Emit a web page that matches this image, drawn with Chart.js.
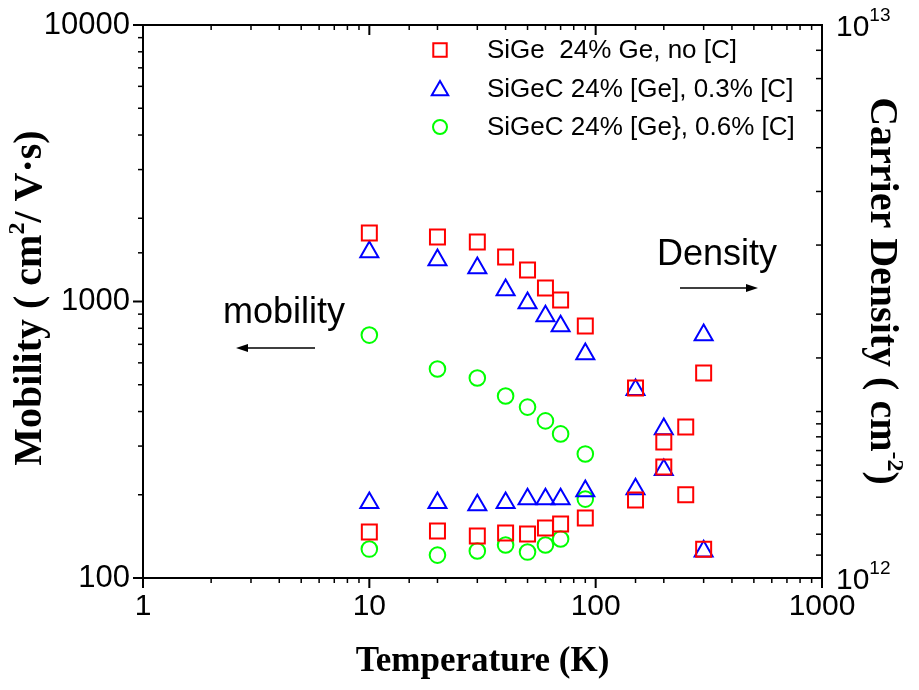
<!DOCTYPE html>
<html>
<head>
<title>Mobility and carrier density vs temperature</title>
<style>
  body { margin: 0; background: #fff; }
  #wrap { width: 919px; height: 690px; position: relative; }
</style>
<script src="https://cdn.jsdelivr.net/npm/chart.js"></script>
</head>
<body>
<div id="wrap"><canvas id="chart"></canvas></div>
<script>
const temps = [10, 20, 30, 40, 50, 60, 70, 90, 150, 200, 250, 300];
// mobility, cm^2/Vs (left axis)
const muSiGe = [1769, 1712, 1641, 1448, 1300, 1119, 1013, 815, 487, 252, 200, 127];
const muC03  = [1510, 1413, 1322, 1101, 988, 886, 815, 646, 479, 246, null, 125];
const muC06  = [756, 570, 529, 455, 415, 370, 332, 281, null, null, null, null];
// carrier density, cm^-2 (right axis)
const nSiGe = [1.211e12, 1.216e12, 1.191e12, 1.206e12, 1.201e12, 1.231e12, 1.252e12, 1.284e12, 1.384e12, 1.762e12, 1.875e12, 2.348e12];
const nC03  = [1.367e12, 1.367e12, 1.355e12, 1.367e12, 1.389e12, 1.389e12, 1.389e12, 1.437e12, 1.448e12, 1.860e12, null, 2.751e12];
const nC06  = [1.128e12, 1.100e12, 1.119e12, 1.147e12, 1.114e12, 1.147e12, 1.176e12, 1.389e12, null, null, null, null];

const seriesNames = ['SiGe  24% Ge, no [C]', 'SiGeC 24% [Ge], 0.3% [C]', 'SiGeC 24% [Ge}, 0.6% [C]'];
const xTicks = [1, 10, 100, 1000];
const yTicks = [100, 1000, 10000];
const y2Ticks = [{base: '10', exp: '12', value: 1e12}, {base: '10', exp: '13', value: 1e13}];

const colors = ['#ff0000', '#0000ff', '#00ff00'];
const styles = ['rect', 'triangle', 'circle'];
const radii = [10.6, 10.4, 7.8];

function pts(vals) {
  const out = [];
  vals.forEach((v, i) => { if (v !== null) out.push({x: temps[i], y: v}); });
  return out;
}
function ds(label, vals, k, axis) {
  return {
    label: label, data: pts(vals), yAxisID: axis,
    pointStyle: styles[k], radius: radii[k], borderColor: colors[k],
    backgroundColor: 'rgba(0,0,0,0)', borderWidth: 2, showLine: false
  };
}
const isDecade = v => Math.abs(Math.log10(v) - Math.round(Math.log10(v))) < 1e-9;

const sans = "'Liberation Sans', Arial, sans-serif";
const serif = "'Liberation Serif', 'Times New Roman', serif";

function drawSupText(ctx, parts, x, y, align) {
  // parts: [text, font, rise]
  let total = 0;
  parts.forEach(p => { ctx.font = p[1]; total += ctx.measureText(p[0]).width; });
  let cx = align === 'center' ? x - total / 2 : x;
  ctx.textAlign = 'left';
  parts.forEach(p => {
    ctx.font = p[1];
    ctx.fillText(p[0], cx, y - (p[2] || 0));
    cx += ctx.measureText(p[0]).width;
  });
}

function marker(ctx, style, x, y, r, color) {
  ctx.save();
  ctx.strokeStyle = color;
  ctx.lineWidth = 2;
  ctx.beginPath();
  if (style === 'rect') {
    const s = r * Math.SQRT1_2;
    ctx.rect(x - s, y - s, 2 * s, 2 * s);
  } else if (style === 'triangle') {
    ctx.moveTo(x, y - r);
    ctx.lineTo(x + r * 0.866, y + r / 2);
    ctx.lineTo(x - r * 0.866, y + r / 2);
    ctx.closePath();
  } else {
    ctx.arc(x, y, r, 0, Math.PI * 2);
  }
  ctx.stroke();
  ctx.restore();
}

const extras = {
  id: 'extras',
  afterDraw(chart) {
    const ctx = chart.ctx;
    const a = chart.chartArea;
    const sx = chart.scales.x, sy = chart.scales.y, sy2 = chart.scales.y2;
    ctx.save();
    ctx.strokeStyle = '#000';
    ctx.fillStyle = '#000';
    // top frame line
    ctx.lineWidth = 2;
    ctx.beginPath();
    ctx.moveTo(a.left - 1, a.top);
    ctx.lineTo(a.right + 1, a.top);
    ctx.stroke();
    // tick marks
    sx.ticks.forEach(t => {
      const px = sx.getPixelForValue(t.value);
      const len = isDecade(t.value) ? 10 : 5;
      ctx.lineWidth = isDecade(t.value) ? 2 : 1.5;
      ctx.beginPath();
      ctx.moveTo(px, a.bottom); ctx.lineTo(px, a.bottom + len);
      ctx.moveTo(px, a.top); ctx.lineTo(px, a.top + len);
      ctx.stroke();
    });
    sy.ticks.forEach(t => {
      const py = sy.getPixelForValue(t.value);
      const len = isDecade(t.value) ? 10 : 5;
      ctx.lineWidth = isDecade(t.value) ? 2 : 1.5;
      ctx.beginPath();
      ctx.moveTo(a.left, py); ctx.lineTo(a.left - len, py);
      ctx.stroke();
    });
    sy2.ticks.forEach(t => {
      const py = sy2.getPixelForValue(t.value);
      const len = isDecade(t.value) ? 10 : 6;
      ctx.lineWidth = isDecade(t.value) ? 2 : 1.5;
      ctx.beginPath();
      ctx.moveTo(a.right, py); ctx.lineTo(a.right - len, py);
      ctx.stroke();
    });
    // right axis labels with superscripts
    ctx.textBaseline = 'middle';
    y2Ticks.forEach(t => {
      const py = sy2.getPixelForValue(t.value);
      drawSupText(ctx, [[t.base, '30px ' + sans, 0], [t.exp, '19px ' + sans, 12]], a.right + 14, py + 3, 'left');
    });
    // left axis title
    const tf = 'bold 40px ' + serif, tfs = 'bold 24px ' + serif;
    ctx.save();
    ctx.translate(31, 298);
    ctx.rotate(-Math.PI / 2);
    drawSupText(ctx, [['Mobility ( cm', tf, 0], ['2', tfs, 13], ['/ V\u00b7s)', tf, 0]], 0, 0, 'center');
    ctx.restore();
    // right axis title
    ctx.save();
    ctx.translate(881, 291);
    ctx.rotate(Math.PI / 2);
    drawSupText(ctx, [['Carrier Density ( cm', tf, 0], ['-2', tfs, 13], [')', tf, 0]], 0, 0, 'center');
    ctx.restore();
    // legend
    chart.data.datasets.slice(0, 3).forEach((d, i) => {
      const ly = 50 + i * 38.5;
      marker(ctx, d.pointStyle, 440, ly + (d.pointStyle === 'triangle' ? 2 : 0), d.pointStyle === 'circle' ? 7 : 9.5, d.borderColor);
      ctx.fillStyle = '#000';
      ctx.font = '26px ' + sans;
      ctx.textAlign = 'left';
      ctx.fillText(d.label, 487, ly + 1);
    });
    // annotations
    ctx.font = '36px ' + sans;
    ctx.textBaseline = 'alphabetic';
    ctx.fillText('mobility', 223, 323);
    ctx.fillText('Density', 657, 265);
    ctx.lineWidth = 1.5;
    ctx.beginPath();
    ctx.moveTo(315, 348); ctx.lineTo(244, 348);
    ctx.moveTo(680, 288); ctx.lineTo(750, 288);
    ctx.stroke();
    ctx.beginPath();
    ctx.moveTo(236, 348); ctx.lineTo(248, 344); ctx.lineTo(248, 352); ctx.closePath();
    ctx.moveTo(758, 288); ctx.lineTo(746, 284); ctx.lineTo(746, 292); ctx.closePath();
    ctx.fill();
    ctx.restore();
  }
};

new Chart(document.getElementById('chart'), {
  type: 'scatter',
  data: {
    datasets: [
      ds(seriesNames[0], muSiGe, 0, 'y'),
      ds(seriesNames[1], muC03, 1, 'y'),
      ds(seriesNames[2], muC06, 2, 'y'),
      ds(seriesNames[0] + ' density', nSiGe, 0, 'y2'),
      ds(seriesNames[1] + ' density', nC03, 1, 'y2'),
      ds(seriesNames[2] + ' density', nC06, 2, 'y2')
    ]
  },
  plugins: [extras],
  options: {
    responsive: true,
    maintainAspectRatio: false,
    animation: false,
    events: [],
    layout: {padding: {top: 25, left: 0, right: 0, bottom: 0}},
    plugins: {legend: {display: false}, tooltip: {enabled: false}},
    scales: {
      x: {
        type: 'logarithmic', position: 'bottom', min: 1, max: 1000,
        grid: {display: false},
        border: {display: true, color: '#000', width: 2},
        ticks: {
          autoSkip: false, maxRotation: 0, padding: 3, color: '#000',
          font: {family: sans, size: 30},
          callback: v => xTicks.some(t => Math.abs(t - v) / t < 1e-6) ? String(v) : ''
        },
        title: {display: true, text: 'Temperature (K)', color: '#000', font: {family: serif, weight: 'bold', size: 35}, padding: {top: 0, bottom: 7}},
        afterFit: s => { s.height = 112; }
      },
      y: {
        type: 'logarithmic', position: 'left', min: 100, max: 10000,
        grid: {display: false},
        border: {display: true, color: '#000', width: 2},
        ticks: {
          autoSkip: false, padding: 5, color: '#000',
          font: {family: sans, size: 31},
          callback: v => yTicks.some(t => Math.abs(t - v) / t < 1e-6) ? String(v) : ''
        },
        afterFit: s => { s.width = 143; }
      },
      y2: {
        type: 'logarithmic', position: 'right', min: 1e12, max: 1e13,
        grid: {display: false},
        border: {display: true, color: '#000', width: 2},
        ticks: {display: false, autoSkip: false},
        afterFit: s => { s.width = 97; }
      }
    }
  }
});
</script>
</body>
</html>
